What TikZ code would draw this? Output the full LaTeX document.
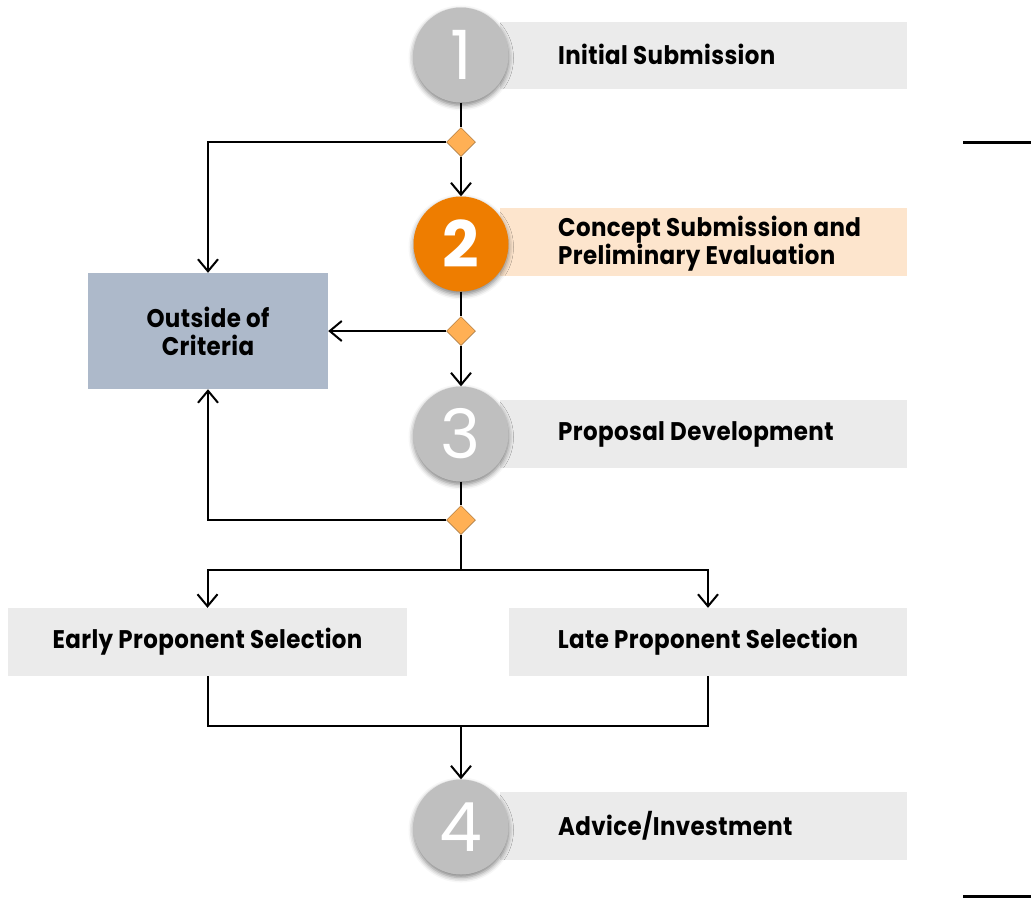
\documentclass[tikz,border=0pt]{standalone}
\usepackage{fontspec}
\setmainfont{Poppins}[FakeStretch=0.9,LetterSpace=1.5]
\newfontfamily\numfont{Poppins}
\usetikzlibrary{arrows.meta,shapes.geometric,shadows.blur}
\definecolor{bargray}{HTML}{EBEBEB}
\definecolor{barpeach}{HTML}{FDE5CD}
\definecolor{circgray}{HTML}{BFBFBF}
\definecolor{circorange}{HTML}{EE7D00}
\definecolor{diamondfill}{HTML}{FFB055}
\definecolor{criteriafill}{HTML}{ADB9CA}
\tikzset{
  lbl/.style={anchor=west, align=left, font=\fontsize{25.5}{28}\selectfont\bfseries, inner sep=0pt},
  numcirc/.style={circle, fill=circgray, minimum size=95pt, inner sep=0pt, text=white,
     font=\numfont\fontsize{68}{68}\selectfont,
     blur shadow={shadow xshift=0pt, shadow yshift=-3pt, shadow blur radius=5pt, shadow opacity=50}},
  dec/.style={diamond, fill=diamondfill, draw=diamondfill!60!black, line width=0.5pt, minimum size=29pt, inner sep=0pt},
  conn/.style={line width=2pt, draw=black},
  arr/.style={conn, -{Straight Barb[length=12pt,width=20pt,line width=2pt]}},
  boxlbl/.style={font=\fontsize{25.5}{28}\selectfont\bfseries, align=center},
}
\begin{document}
\begin{tikzpicture}[x=1pt,y=-1pt]
\useasboundingbox (0,0) rectangle (1031,898);
% bars
\fill[bargray] (500,22) rectangle (907,89);
\fill[barpeach] (500,208) rectangle (907,276);
\fill[bargray] (500,400) rectangle (907,468);
\fill[bargray] (500,792) rectangle (907,860);
\node[lbl] (t1) at (558,54) {Initial Submission};
\node[lbl] (t2) at (558,244) {Concept Submission and\\Preliminary Evaluation};
\node[lbl] (t3) at (558,434) {Proposal Development};
\node[lbl] (t4) at (558,826) {Advice/Investment};
% circles
\node[numcirc] (c1) at (461,55) {1};
\node[numcirc, fill=circorange, font=\numfont\fontsize{64}{64}\selectfont\bfseries] (c2) at (461,244) {2};
\node[numcirc] (c3) at (461,434) {3};
\node[numcirc] (c4) at (461,827) {4};
% boxes
\node[fill=criteriafill, minimum width=240pt, minimum height=116pt, inner sep=0pt, boxlbl] (oc) at (208,331) {Outside of\\Criteria};
\node[fill=bargray, minimum width=399pt, minimum height=68pt, inner sep=0pt, boxlbl] (early) at (207.5,642) {Early Proponent Selection};
\node[fill=bargray, minimum width=398pt, minimum height=68pt, inner sep=0pt, boxlbl] (late) at (708,642) {Late Proponent Selection};
% diamonds
\node[dec] (d1) at (461,142) {};
\node[dec] (d2) at (461,331) {};
\node[dec] (d3) at (461,520) {};
\coordinate (split) at (461,570);
\coordinate (join) at (461,726);
% connectors
\draw[conn] (c1.south) -- (d1.north);
\draw[arr] (d1.south) -- (c2.north);
\draw[arr] (d1.west) -| (oc.north);
\draw[conn] (c2.south) -- (d2.north);
\draw[arr] (d2.west) -- (oc.east);
\draw[arr] (d2.south) -- (c3.north);
\draw[conn] (c3.south) -- (d3.north);
\draw[arr] (d3.west) -| (oc.south);
\draw[conn] (d3.south) -- (split);
\draw[arr] (split) -| (early.north);
\draw[arr] (split) -| (late.north);
\draw[conn] (early.south) |- (join);
\draw[conn] (late.south) |- (join);
\draw[arr] (join) -- (c4.north);
% right-edge rules
\draw[line width=3pt] (963,142) -- (1031,142);
\draw[line width=3pt] (963,896) -- (1031,896);
\end{tikzpicture}
\end{document}
